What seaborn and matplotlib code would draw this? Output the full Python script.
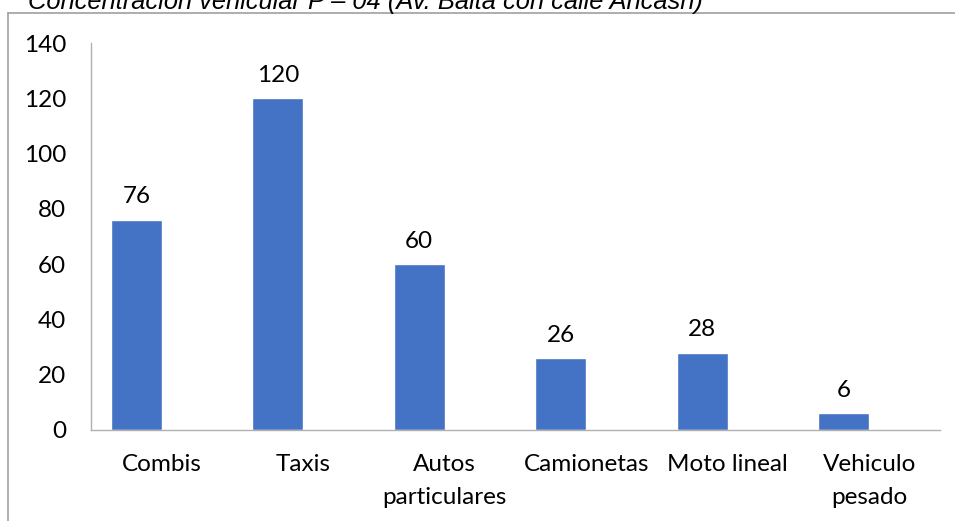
import matplotlib
matplotlib.use("Agg")
import matplotlib.pyplot as plt
import seaborn as sns
import pandas as pd
from matplotlib.lines import Line2D

categories = ["Combis", "Taxis", "Autos\nparticulares", "Camionetas", "Moto lineal", "Vehiculo\npesado"]
values = [76, 120, 60, 26, 28, 6]
yticks = [0, 20, 40, 60, 80, 100, 120, 140]
title = "Concentración vehicular P – 04 (Av. Balta con calle Ancash)"
series = ["P-04", "(vacío)"]

sns.set_theme(style="white")
plt.rcParams['font.family'] = ['Lato', 'DejaVu Sans']

df = pd.DataFrame({"cat": categories, "val": values, "serie": series[0]})

fig = plt.figure(figsize=(9.55, 5.21), dpi=100)
ax = fig.add_axes([91/955, 1-430/521, (940-91)/955, (430-43)/521])

sns.barplot(data=df, x="cat", y="val", hue="serie", hue_order=series,
            palette=["#4472C4", "#ED7D31"], saturation=1, width=0.72, dodge=True,
            order=categories, legend=False, ax=ax)

ax.bar_label(ax.containers[0], labels=[str(v) for v in values], padding=9, fontsize=17.5, color="#000000")

ax.set_ylim(0, 140)
ax.set_xlim(-0.5, len(categories) - 0.5)
ax.set_yticks(yticks)
ax.set_yticklabels([str(t) for t in yticks], fontsize=17.5, color="#000000")
ax.set_xlabel("")
ax.set_ylabel("")
ax.tick_params(axis='both', length=0)
ax.tick_params(axis='y', pad=18)
ax.tick_params(axis='x', pad=17)
for lbl in ax.get_xticklabels():
    lbl.set_fontsize(17.5)
    lbl.set_color("#000000")
    lbl.set_linespacing(1.7)
    lbl.set_verticalalignment('top')

for s in ["top", "right"]:
    ax.spines[s].set_visible(False)
for s in ["left", "bottom"]:
    ax.spines[s].set_color("#b0b0b0")
    ax.spines[s].set_linewidth(1.0)

# outer frame (partial, as in the cropped screenshot)
fy = 1 - 13/521
fx = 8/955
fig.add_artist(Line2D([fx, fx], [0, fy], transform=fig.transFigure, color="#a0a0a0", lw=1.2))
fig.add_artist(Line2D([fx, 1], [fy, fy], transform=fig.transFigure, color="#a0a0a0", lw=1.2))

fig.text(28/955, 1 - 9/521, title, fontsize=18.4, fontstyle='italic',
         family=['Liberation Sans', 'DejaVu Sans'], ha='left', va='baseline', color="#000000")

fig.savefig("out.png", dpi=100)
